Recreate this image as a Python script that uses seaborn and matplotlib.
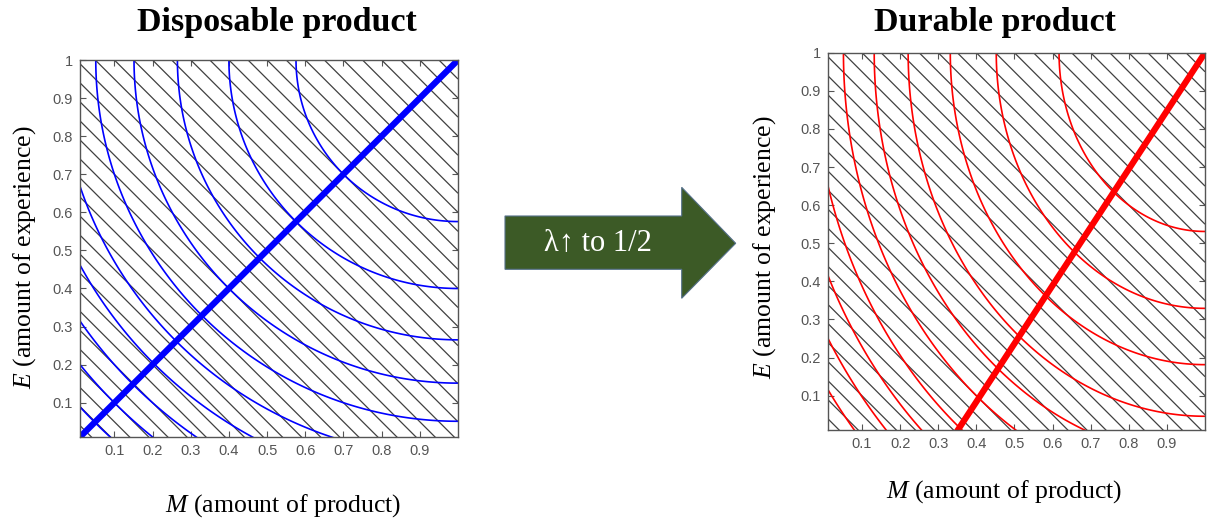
import numpy as np
import matplotlib
matplotlib.use("Agg")
import matplotlib.pyplot as plt
from matplotlib.patches import Polygon
import seaborn as sns
import pandas as pd

# ---------------- data ----------------
tick_values_x = [0.1, 0.2, 0.3, 0.4, 0.5, 0.6, 0.7, 0.8, 0.9]
tick_labels_x = ["0.1", "0.2", "0.3", "0.4", "0.5", "0.6", "0.7", "0.8", "0.9"]
tick_values_y = [0.1, 0.2, 0.3, 0.4, 0.5, 0.6, 0.7, 0.8, 0.9, 1.0]
tick_labels_y = ["0.1", "0.2", "0.3", "0.4", "0.5", "0.6", "0.7", "0.8", "0.9", "1"]

# weight on (1-M)^2 in the "loss" surface, and indifference levels
disposable_weight = 1.0
disposable_levels = [0.18, 0.36, 0.54, 0.72, 0.90, 1.09, 1.27, 1.45, 1.62, 1.81]
durable_weight = 1.5
durable_levels = [0.22, 0.45, 0.67, 0.91, 1.13, 1.35, 1.59, 1.81, 2.03, 2.25]

# optimal expansion paths (thick lines)
disposable_path_M = [0.0, 1.0]
disposable_path_E = [0.0, 1.0]
durable_path_M = [0.345, 1.0]
durable_path_E = [0.0, 1.0]

# budget lines M + E = c  (hatching)
budget_step = 0.05

titles = ["Disposable product", "Durable product"]
arrow_text = "λ↑ to 1/2"

# ---------------- style ----------------
sns.set_theme(style="white")
plt.rcParams["font.family"] = ["Liberation Sans", "DejaVu Sans"]
plt.rcParams["mathtext.fontset"] = "custom"
plt.rcParams["mathtext.rm"] = "Liberation Serif"
plt.rcParams["mathtext.it"] = "Liberation Serif:italic"

W, H = 1209, 520
fig = plt.figure(figsize=(W / 100, H / 100), dpi=100)
fig.patch.set_facecolor("white")


def fx(px):
    return px / W


def fy(py):
    return 1 - py / H


ax1 = fig.add_axes([fx(80), fy(437), 378 / W, 377 / H])
ax2 = fig.add_axes([fx(827.7), fy(430), 377.3 / W, 377.3 / H])

grid = np.linspace(0, 1.0, 400)
MM, EE = np.meshgrid(grid, grid)
budget_levels = np.arange(budget_step, 2.0, budget_step)

panels = [
    (ax1, disposable_weight, disposable_levels, disposable_path_M, disposable_path_E, "#0000ff"),
    (ax2, durable_weight, durable_levels, durable_path_M, durable_path_E, "#ff0000"),
]

for ax, w, levels, pm, pe, col in panels:
    ax.set_facecolor("white")
    # hatching (budget lines)
    ax.contour(MM, EE, MM + EE, levels=budget_levels, colors="#404040",
               linewidths=0.9, linestyles="solid")
    # indifference curves
    Z = w * (1 - MM) ** 2 + (1 - EE) ** 2
    ax.contour(MM, EE, Z, levels=levels, colors=col, linewidths=1.2,
               linestyles="solid")
    # expansion path
    df = pd.DataFrame({"M": pm, "E": pe})
    sns.lineplot(data=df, x="M", y="E", ax=ax, color=col, linewidth=4.5,
                 solid_capstyle="butt")
    ax.set_xlim(0.01, 1.0)
    ax.set_ylim(0.01, 1.0)
    ax.set_xticks(tick_values_x)
    ax.set_xticklabels(tick_labels_x)
    ax.set_yticks(tick_values_y)
    ax.set_yticklabels(tick_labels_y)
    ax.set_xlabel("")
    ax.set_ylabel("")
    ax.tick_params(direction="in", length=4, width=0.8, colors="#555555",
                   labelcolor="#555555", labelsize=10.5, top=True, right=True,
                   bottom=True, left=True, pad=5)
    for s in ax.spines.values():
        s.set_visible(True)
        s.set_color("#555555")
        s.set_linewidth(1.0)

serif = ["Liberation Serif", "DejaVu Serif"]
fig.text(fx(277), fy(22), titles[0], ha="center", va="center", fontsize=24.5,
         fontweight="bold", family=serif, color="black")
fig.text(fx(995), fy(22), titles[1], ha="center", va="center", fontsize=24.5,
         fontweight="bold", family=serif, color="black")

fig.text(fx(25), fy(257), "$E$ (amount of experience)", rotation=90,
         ha="center", va="center", fontsize=18.5, family=serif, color="black")
fig.text(fx(765), fy(247), "$E$ (amount of experience)", rotation=90,
         ha="center", va="center", fontsize=18.5, family=serif, color="black")
fig.text(fx(283), fy(506), "$M$ (amount of product)", ha="center",
         va="center", fontsize=18.5, family=serif, color="black")
fig.text(fx(1004), fy(492), "$M$ (amount of product)", ha="center",
         va="center", fontsize=18.5, family=serif, color="black")

# arrow
pts = [(505, 216), (681.7, 216), (681.7, 187.3), (735.7, 243.3),
       (681.7, 298.3), (681.7, 269.3), (505, 269.3)]
arrow = Polygon([(fx(x), fy(y)) for x, y in pts], closed=True,
                transform=fig.transFigure, facecolor="#3c5a26",
                edgecolor="#55708a", linewidth=0.8)
fig.add_artist(arrow)
fig.text(fx(598), fy(243), arrow_text, ha="center", va="center",
         fontsize=22, color="white", family=serif)

fig.savefig("out.png", dpi=100, facecolor="white")
